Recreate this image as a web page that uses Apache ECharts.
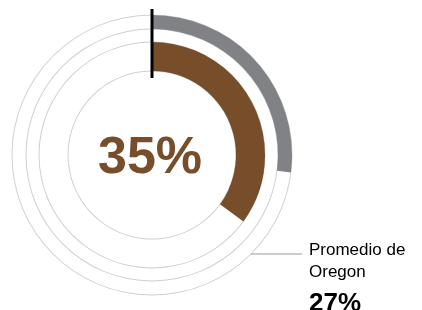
<!DOCTYPE html>
<html style="height: 100%">
<head>
	<meta charset="utf-8">
	<title>Promedio de Oregon</title>
	<script src="https://cdn.jsdelivr.net/npm/echarts@6/dist/echarts.min.js"></script>
</head>
<body style="height: 100%; margin: 0; background: #fff">
	<div id="main" style="width: 422px; height: 310px"></div>
	<script type="text/javascript">
		// values
		var countyValue = [35];
		var oregonValue = [27];
		var oregonLabel = ['Promedio de', 'Oregon'];
		var ringRadii = [84, 113, 126, 140];

		var cx = 152, cy = 155;
		var dom = document.getElementById('main');
		var myChart = echarts.init(dom);

		var ring = function(r){
			return {
				type: 'pie',
				silent: true,
				center: [cx, cy],
				radius: [r - 0.5, r + 0.5],
				label: { show: false },
				labelLine: { show: false },
				itemStyle: { color: '#d0d0d0' },
				data: [1],
				z: 1
			};
		};

		var band = function(val, inner, outer, color){
			return {
				type: 'pie',
				silent: true,
				center: [cx, cy],
				radius: [inner, outer],
				startAngle: 90,
				clockwise: true,
				label: { show: false },
				labelLine: { show: false },
				z: 2,
				data: [
					{ value: val, itemStyle: { color: color } },
					{ value: 100 - val, itemStyle: { color: 'rgba(0,0,0,0)' } }
				]
			};
		};

		var series = ringRadii.map(ring);
		series.push(band(oregonValue[0], 126, 140, '#808285'));
		series.push(band(countyValue[0], 84, 113, '#774d2a'));

		var option = {
			animation: false,
			series: series,
			graphic: [
				{
					type: 'line', z: 10,
					shape: { x1: cx, y1: 9, x2: cx, y2: 78 },
					style: { stroke: '#000', lineWidth: 3 }
				},
				{
					type: 'text', z: 10,
					x: cx - 2, y: cy + 4,
					style: {
						text: countyValue[0] + '%',
						fill: '#774d2a',
						font: 'bold 52px "Liberation Sans", Arial, sans-serif',
						align: 'center', verticalAlign: 'middle'
					}
				},
				{
					type: 'line', z: 10,
					shape: { x1: 251, y1: 254, x2: 302, y2: 254 },
					style: { stroke: '#999', lineWidth: 1 }
				},
				{
					type: 'text', z: 10,
					x: 309, y: 239,
					style: {
						text: oregonLabel.join('\n'),
						fill: '#000',
						font: '17px "Liberation Sans", Arial, sans-serif',
						lineHeight: 22
					}
				},
				{
					type: 'text', z: 10,
					x: 309, y: 291,
					style: {
						text: oregonValue[0] + '%',
						fill: '#000',
						font: 'bold 26px "Liberation Sans", Arial, sans-serif'
					}
				}
			]
		};
		myChart.setOption(option, true);
	</script>
</body>
</html>
